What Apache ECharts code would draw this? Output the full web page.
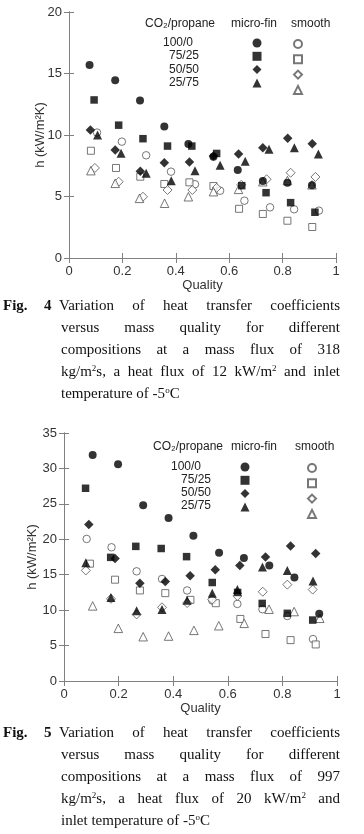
<!DOCTYPE html>
<html>
<head>
<meta charset="utf-8">
<script src="https://cdn.jsdelivr.net/npm/echarts@6/dist/echarts.min.js"></script>
<style>
  body { margin: 0; background: #fff; }
  #chart { position: absolute; left: 0; top: 0; width: 364px; height: 834px; }
  .ln { position: absolute; font: 15px 'Liberation Serif', serif; line-height: 22px; color: #111;
        text-align: justify; text-align-last: justify; white-space: nowrap; }
  .ln.last { text-align-last: left; }
  .b { position: absolute; font: bold 15px 'Liberation Serif', serif; line-height: 22px; color: #111; }
  sup { font-size: 9px; vertical-align: 5px; line-height: 0; }
</style>
</head>
<body>
<div id="chart"></div>

<!-- caption Fig. 4 -->
<div class="b" style="left:3px;top:294px">Fig.</div>
<div class="b" style="left:44px;top:294px">4</div>
<div class="ln" style="left:59px;width:281px;top:294px">Variation of heat transfer coefficients</div>
<div class="ln" style="left:61px;width:279px;top:316px">versus mass quality for different</div>
<div class="ln" style="left:61px;width:279px;top:338px">compositions at a mass flux of 318</div>
<div class="ln" style="left:61px;width:279px;top:360px">kg/m<sup>2</sup>s, a heat flux of 12 kW/m<sup>2</sup> and inlet</div>
<div class="ln last" style="left:61px;width:279px;top:382px">temperature of -5<sup>o</sup>C</div>

<!-- caption Fig. 5 -->
<div class="b" style="left:3px;top:721px">Fig.</div>
<div class="b" style="left:44px;top:721px">5</div>
<div class="ln" style="left:59px;width:281px;top:721px">Variation of heat transfer coefficients</div>
<div class="ln" style="left:61px;width:279px;top:743px">versus mass quality for different</div>
<div class="ln" style="left:61px;width:279px;top:765px">compositions at a mass flux of 997</div>
<div class="ln" style="left:61px;width:279px;top:787px">kg/m<sup>2</sup>s, a heat flux of 20 kW/m<sup>2</sup> and</div>
<div class="ln last" style="left:61px;width:279px;top:809px">inlet temperature of -5<sup>o</sup>C</div>

<script>
// compositions CO2/propane
const compositions = ['100/0', '75/25', '50/50', '25/75'];

// Fig. 4 : 318 kg/m2s, micro-fin tube (filled)
const fig4Fin100 = [[0.077,15.7],[0.173,14.45],[0.266,12.8],[0.357,10.7],[0.447,9.27],[0.541,8.24],[0.632,7.15],[0.726,6.26],[0.818,6.12],[0.91,5.91]];
const fig4Fin75 = [[0.094,12.85],[0.186,10.8],[0.277,9.7],[0.369,9.1],[0.46,9.1],[0.553,8.5],[0.647,5.88],[0.738,5.31],[0.83,4.5],[0.921,3.72]];
const fig4Fin50 = [[0.08,10.4],[0.173,8.78],[0.267,7.05],[0.357,7.75],[0.451,7.8],[0.541,8.3],[0.635,8.45],[0.726,8.97],[0.819,9.73],[0.911,9.29]];
const fig4Fin25 = [[0.107,10.0],[0.195,8.51],[0.289,6.89],[0.383,6.28],[0.472,7.1],[0.566,7.54],[0.66,7.87],[0.749,8.84],[0.844,8.97],[0.934,8.46]];
// Fig. 4 : smooth tube (open)
const fig4Smooth100 = [[0.105,10.2],[0.198,9.46],[0.289,8.35],[0.382,7.02],[0.472,6.0],[0.566,5.47],[0.657,4.66],[0.753,4.12],[0.843,3.96],[0.936,3.85]];
const fig4Smooth75 = [[0.082,8.72],[0.176,7.32],[0.267,6.61],[0.357,6.02],[0.451,6.15],[0.541,5.85],[0.637,4.0],[0.726,3.58],[0.818,3.03],[0.911,2.52]];
const fig4Smooth50 = [[0.097,7.32],[0.186,6.2],[0.277,4.98],[0.369,5.53],[0.462,5.53],[0.553,5.7],[0.645,5.95],[0.74,6.4],[0.83,6.93],[0.923,6.59]];
const fig4Smooth25 = [[0.082,7.1],[0.173,6.07],[0.264,4.85],[0.358,4.45],[0.447,4.98],[0.541,5.39],[0.635,5.58],[0.726,6.2],[0.818,6.3],[0.91,5.95]];

// Fig. 5 : 997 kg/m2s, micro-fin tube (filled)
const fig5Fin100 = [[0.105,31.9],[0.198,30.6],[0.29,24.8],[0.383,23.0],[0.474,20.5],[0.568,18.1],[0.659,17.35],[0.752,16.3],[0.844,14.6],[0.935,9.5]];
const fig5Fin75 = [[0.079,27.2],[0.171,17.45],[0.263,19.0],[0.356,18.7],[0.449,17.55],[0.543,13.9],[0.636,12.5],[0.726,10.95],[0.818,9.55],[0.911,8.6]];
const fig5Fin50 = [[0.091,22.1],[0.187,17.3],[0.278,13.8],[0.371,14.05],[0.462,14.86],[0.554,15.7],[0.644,16.3],[0.738,17.5],[0.83,19.05],[0.922,17.98]];
const fig5Fin25 = [[0.08,16.7],[0.172,11.8],[0.266,9.9],[0.359,10.1],[0.451,11.4],[0.543,12.4],[0.635,12.9],[0.727,16.1],[0.818,15.6],[0.912,14.1]];
// Fig. 5 : smooth tube (open)
const fig5Smooth100 = [[0.083,20.05],[0.174,18.87],[0.266,15.48],[0.359,14.4],[0.451,12.78],[0.543,11.36],[0.635,10.88],[0.727,10.13],[0.818,9.18],[0.912,5.92]];
const fig5Smooth75 = [[0.095,16.56],[0.187,14.3],[0.278,12.78],[0.371,12.4],[0.463,11.45],[0.556,10.98],[0.646,8.76],[0.738,6.63],[0.83,5.77],[0.922,5.16]];
const fig5Smooth50 = [[0.08,15.6],[0.172,11.6],[0.266,9.4],[0.359,10.4],[0.451,11.0],[0.543,11.5],[0.635,12.0],[0.728,12.6],[0.818,13.6],[0.911,12.9]];
const fig5Smooth25 = [[0.105,10.6],[0.199,7.43],[0.29,6.25],[0.383,6.34],[0.476,7.15],[0.567,7.8],[0.66,8.14],[0.751,10.13],[0.843,9.8],[0.937,8.85]];

const symbols = ['circle', 'rect', 'diamond', 'triangle'];
const sizes = [8, 7.5, 9.5, 9];
const font = 'Liberation Sans';

let chart = echarts.init(document.getElementById('chart'));

function scatter(name, data, k, filled, idx) {
  return {
    name: name,
    type: 'scatter',
    xAxisIndex: idx * 2,
    yAxisIndex: idx * 2,
    data: data,
    symbol: symbols[k],
    symbolSize: filled ? sizes[k] : sizes[k] - 0.5,
    itemStyle: filled ? { color: '#000', borderWidth: 0 }
                      : { color: '#fff', borderColor: '#555', borderWidth: 1 },
    z: filled ? 3 : 2,
    silent: true
  };
}

const fig4Fin = [fig4Fin100, fig4Fin75, fig4Fin50, fig4Fin25];
const fig4Smooth = [fig4Smooth100, fig4Smooth75, fig4Smooth50, fig4Smooth25];
const fig5Fin = [fig5Fin100, fig5Fin75, fig5Fin50, fig5Fin25];
const fig5Smooth = [fig5Smooth100, fig5Smooth75, fig5Smooth50, fig5Smooth25];

let series = [];
compositions.forEach((c, k) => {
  series.push(scatter('f4s ' + c, fig4Smooth[k], k, false, 0));
  series.push(scatter('f5s ' + c, fig5Smooth[k], k, false, 1));
});
compositions.forEach((c, k) => {
  series.push(scatter('f4f ' + c, fig4Fin[k], k, true, 0));
  series.push(scatter('f5f ' + c, fig5Fin[k], k, true, 1));
});

const axisLine = { lineStyle: { color: '#808080', width: 1 } };
const tick = { inside: true, length: 5, lineStyle: { color: '#808080' } };
const label = { color: '#333', fontFamily: font, fontSize: 13 };

function xAxes(g, gap) {
  return [
    { gridIndex: g, type: 'value', min: 0, max: 1, interval: 0.2, position: 'bottom',
      name: 'Quality', nameLocation: 'middle', nameGap: gap,
      nameTextStyle: { color: '#333', fontFamily: font, fontSize: 13 },
      axisLine: axisLine, axisTick: tick, splitLine: { show: false },
      axisLabel: Object.assign({ margin: 7, formatter: v => String(+v.toFixed(1)) }, label) },
    { gridIndex: g, type: 'value', min: 0, max: 1, interval: 0.2, position: 'top',
      axisLine: axisLine, axisTick: tick, splitLine: { show: false }, axisLabel: { show: false } }
  ];
}
function yAxes(g, max, gap) {
  return [
    { gridIndex: g, type: 'value', min: 0, max: max, interval: 5, position: 'left',
      name: 'h (kW/m²K)', nameLocation: 'middle', nameGap: gap, nameMoveOverlap: false,
      nameTextStyle: { color: '#333', fontFamily: font, fontSize: 13 },
      axisLine: axisLine, axisTick: tick, splitLine: { show: false },
      axisLabel: Object.assign({ margin: 7 }, label) },
    { gridIndex: g, type: 'value', min: 0, max: max, interval: 5, position: 'right',
      axisLine: axisLine, axisTick: tick, splitLine: { show: false }, axisLabel: { show: false } }
  ];
}

// one legend column per tube type; icon size s keeps the 13.3 px row pitch
function legendCol(names, cx, cy, s) {
  return {
    data: names, left: cx - s / 2, top: cy - s / 2, orient: 'vertical', padding: 0,
    itemWidth: s, itemHeight: s, itemGap: 13.3 - s, selectedMode: false,
    formatter: () => '', textStyle: { fontSize: 1 }
  };
}

function txt(text, x, y) {
  return { type: 'text', x: x, y: y, silent: true,
    style: { text: text, fill: '#222', font: '12px ' + font, verticalAlign: 'middle' } };
}

let option = {
  animation: false,
  grid: [
    { left: 69, right: 28, top: 12, height: 246 },
    { left: 64, right: 27, top: 433, height: 248 }
  ],
  xAxis: xAxes(0, 21).concat(xAxes(1, 20)),
  yAxis: yAxes(0, 20, 22).concat(yAxes(1, 35, 25)),
  legend: [
    legendCol(compositions.map(c => 'f4f ' + c), 257, 43, 9),
    legendCol(compositions.map(c => 'f4s ' + c), 297, 43, 8),
    legendCol(compositions.map(c => 'f5f ' + c), 245, 467, 9),
    legendCol(compositions.map(c => 'f5s ' + c), 311, 467, 8)
  ],
  graphic: [
    txt('CO₂/propane', 145, 24), txt('micro-fin', 231, 24), txt('smooth', 291, 24),
    txt(compositions[0], 163, 43), txt(compositions[1], 169, 56),
    txt(compositions[2], 169, 70), txt(compositions[3], 169, 83),
    txt('CO₂/propane', 153, 447), txt('micro-fin', 231, 447), txt('smooth', 295, 447),
    txt(compositions[0], 171, 467), txt(compositions[1], 181, 480),
    txt(compositions[2], 181, 493), txt(compositions[3], 181, 506)
  ],
  series: series
};

chart.setOption(option);
</script>
</body>
</html>
